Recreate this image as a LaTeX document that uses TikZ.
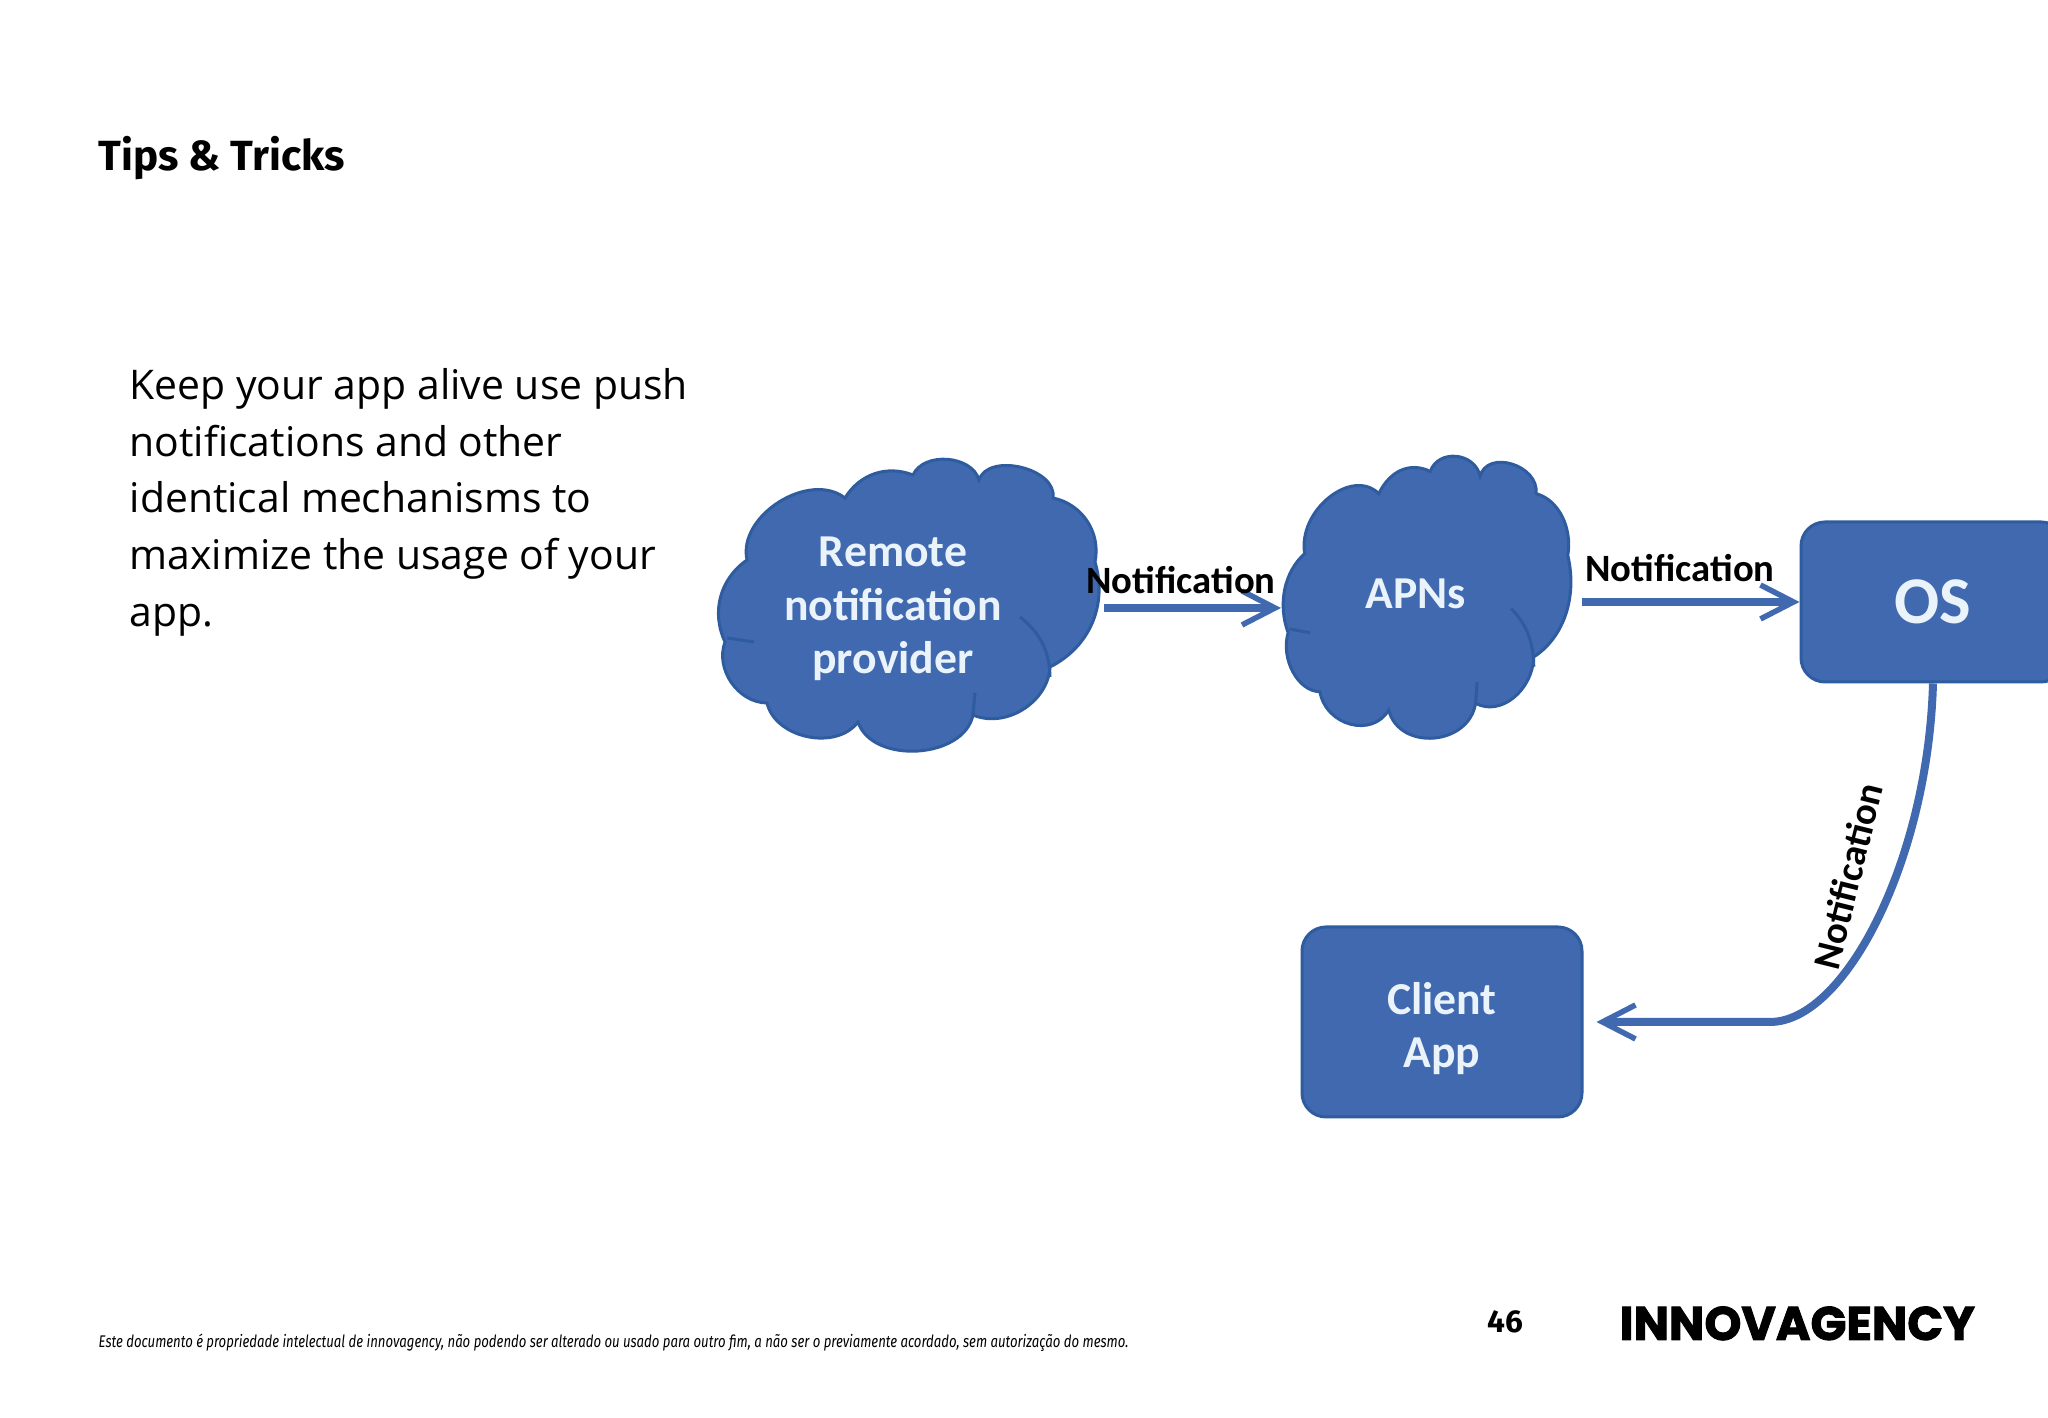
\documentclass[tikz,border=0pt]{standalone}
\usepackage{fontspec}
\usepackage{graphicx}
\usetikzlibrary{arrows.meta}
\setmainfont{Open Sans}
\newfontfamily\titlefont{Fira Sans}
\newfontfamily\boxfont{Carlito}
\newfontfamily\logofont[FakeBold=2]{Poppins}
\definecolor{boxblue}{HTML}{4069B0}
\definecolor{boxedge}{HTML}{2F5C9E}
\definecolor{boxtext}{HTML}{EAF2FA}
\newcommand{\cloudoutline}{
	\draw[puff] (8.45,9.20) to[bend left=40] (9.13,9.43) to[bend left=70] (9.79,9.38)
	to[bend left=85] (10.53,9.20) to[bend left=45] (10.95,8.56) to[bend left=40] (10.50,7.51)
	to[bend left=55] (9.73,7.03) to[bend left=75] (8.58,6.96) to[bend left=65] (7.67,7.15)
	to[bend left=55] (7.25,7.76) to[bend left=40] (7.47,8.58) to[bend left=70] (8.45,9.20) -- cycle;
	\draw[puffline] (10.20,8.01) to[bend left=25] (10.50,7.41);
	\draw[puffline] (7.27,7.80) -- (7.54,7.76);
	\draw[puffline] (9.73,7.03) -- (9.75,7.25);
}
\begin{document}
\begin{tikzpicture}
	\tikzstyle{puff}=[draw=boxedge,fill=boxblue,line width=0.03cm]
	\tikzstyle{puffline}=[draw=boxedge,line width=0.03cm]
	\tikzstyle{inbox}=[text=boxtext,align=center,font=\boxfont\bfseries\fontsize{13}{15.2}\selectfont]
	\tikzstyle{bluebox}=[rectangle,draw=boxedge,fill=boxblue,line width=0.03cm,rounded corners=0.24cm,inner sep=0pt]
	\tikzstyle{suite}=[-{Straight Barb[length=0.33cm,width=0.34cm,line width=0.055cm]},boxblue,line width=0.08cm]
	\tikzstyle{note}=[text=black,font=\boxfont\bfseries\fontsize{11}{13}\selectfont]

	\clip (0,0) rectangle (20.48,14.18);
	\fill[white] (0,0) rectangle (20.48,14.18);

	\node[anchor=west,inner sep=0pt,font=\titlefont\bfseries\fontsize{12}{14}\selectfont] (title) at (0.98,12.60) {Tips \& Tricks};
	\node[anchor=north west,inner sep=0pt,align=left,font=\fontsize{11.63}{16.1}\selectfont] (body) at (1.29,10.50) {Keep your app alive use push\\
	notifications and other\\
	identical mechanisms to\\
	maximize the usage of your\\
	app.};

	\cloudoutline
	\begin{scope}[shift={(7.40,0.356)},xscale=0.756,yscale=0.966]
		\cloudoutline
	\end{scope}

	\node[inbox] (provider) at (8.93,8.09) {Remote\\notification\\provider};
	\node[inbox] (apns) at (14.16,8.24) {APNs};
	\node[bluebox,text=boxtext,minimum width=2.64cm,minimum height=1.60cm,font=\boxfont\bfseries\fontsize{19}{22}\selectfont] (os) at (19.33,8.16) {OS};
	\node[bluebox,text=boxtext,align=center,minimum width=2.80cm,minimum height=1.90cm,font=\boxfont\bfseries\fontsize{13}{15}\selectfont] (client) at (14.42,3.96) {\rule{0pt}{0.45cm}Client\\App};

	\coordinate (providerout) at (11.04,8.10);
	\coordinate (apnsin) at (12.81,8.10);
	\coordinate (apnsout) at (15.82,8.16);
	\coordinate (osbend) at (17.70,3.96);

	\draw[suite] (providerout) -- (apnsin);
	\draw[suite] (apnsout) -- (os.west);
	\draw[suite,shorten >=0.13cm] (os.south) .. controls (19.28,5.58) and (18.45,3.96) .. (osbend) -- (client.east);

	\node[note] (notea) at (11.81,8.38) {Notification};
	\node[note] (noteb) at (16.80,8.50) {Notification};
	\node[note,rotate=76] (notec) at (18.48,5.42) {Notification};

	\node[anchor=base west,inner sep=0pt,font=\titlefont\itshape\fontsize{4.8}{6}\selectfont] (legal) at (0.98,0.70) {\scalebox{0.78}[1]{Este documento é propriedade intelectual de innovagency, não podendo ser alterado ou usado para outro fim, a não ser o previamente acordado, sem autorização do mesmo.}};
	\node[inner sep=0pt,font=\titlefont\bfseries\fontsize{9}{11}\selectfont] (page) at (15.05,0.96) {46};
	\node[anchor=base west,inner sep=0pt,font=\logofont\bfseries\fontsize{13.4}{15}\selectfont] (logo) at (16.19,0.78) {INNOVAGENCY};
\end{tikzpicture}
\end{document}
